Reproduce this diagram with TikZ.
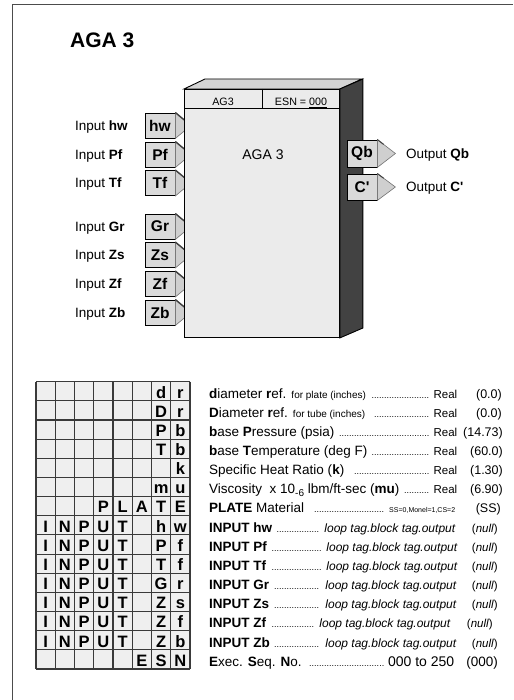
\documentclass[tikz,border=0pt]{standalone}
\usepackage{fontspec}
\setmainfont{Liberation Sans}
\newfontfamily\nq{Liberation Sans}
\usetikzlibrary{calc}
\definecolor{facegray}{HTML}{EBEBEB}
\definecolor{topgray}{HTML}{D4D4D4}
\definecolor{sidegray}{HTML}{424242}
\definecolor{tabgray}{HTML}{DADADA}
\definecolor{bevelgray}{HTML}{CFCFCF}
\definecolor{cellgray}{HTML}{EFEFEF}
\definecolor{linegray}{HTML}{3A3A3A}
\newcommand\fs[1]{\fontsize{#1}{#1}\selectfont}
\newcommand\dotlead{{\fs{9}\leaders\hbox to 2.5pt{\hss.\hss}\hfill}}
\tikzset{
  frameline/.style={draw=black!70, line width=0.8pt},
  face/.style={fill=facegray, draw=black, line width=0.9pt},
  intab/.style={draw=black, fill=tabgray, line width=0.8pt, minimum width=30pt, minimum height=25pt, inner sep=0pt, font=\bfseries\fs{15.5}},
  bevel/.style={fill=bevelgray, draw=black!55, line width=0.6pt},
  bevedge/.style={draw=black!75, line width=1.4pt},
  lab/.style={anchor=base west, inner sep=0pt, font=\fs{13.5}},
  gridl/.style={draw=linegray, line width=1.1pt},
  gletter/.style={anchor=base, inner sep=0pt, font=\bfseries\fs{16.5}},
  rtext/.style={anchor=base west, inner sep=0pt, font=\fs{13.5}},
  rval/.style={anchor=base east, inner sep=0pt, font=\fs{12.5}},
}
\newcommand\gl[3]{\node[gletter] (g#1x#2) at ({36+19.25*(#2-0.5)},{381.7+19.15*#1-2.8}) {#3};}
\newcommand\rt[3]{\node[rtext] (t#1) at (209,{381.7+19.15*#1-2.8}) {\makebox[#2][l]{#3}};}
\newcommand\rv[3]{\node[rval] (v#1) at (#2,{381.7+19.15*#1-2.8}) {#3};}
\begin{document}
\begin{tikzpicture}[x=1pt,y=-1pt]
\useasboundingbox (0,0) rectangle (513,700);
\fill[white] (0,0) rectangle (513,700);
% frame
\draw[frameline] (12,700) -- (12,4) -- (513,4);
% title
\node[anchor=base west, inner sep=0pt, font=\bfseries\fs{21}] (title) at (70,48) {AGA 3};
% input tabs
\node[intab] (thw) at (160,125.5) {hw};
\node[intab] (tPf) at (160,154.5) {Pf};
\node[intab] (tTf) at (160,183) {Tf};
\node[intab] (tGr) at (160,226.5) {Gr};
\node[intab] (tZs) at (160,255) {Zs};
\node[intab] (tZf) at (160,284) {Zf};
\node[intab] (tZb) at (160,312.5) {Zb};
\foreach \t in {hw,Pf,Tf,Gr,Zs,Zf,Zb}{
  \draw[bevel] (t\t.north east) -- ($(t\t.east)+(15.5,0)$) -- (t\t.south east) -- cycle;
  \draw[bevedge] (t\t.north east) -- ($(t\t.north east)!0.6!(t\t.east)+(9.3,0)$);
}
% block
\node[face, minimum width=155pt, minimum height=248pt, inner sep=0pt, anchor=north west] (blk) at (184,89) {};
\draw[fill=topgray, draw=black, line width=0.9pt] (blk.north west) -- ++(21,-10) -- ++(157,0) -- (blk.north east) -- cycle;
\draw[fill=sidegray, draw=black, line width=0.9pt] (blk.north east) -- ++(23,-10) -- ++(0,249) -- (blk.south east) -- cycle;
\draw[line width=0.7pt] ($(blk.north west)+(0,19)$) -- ($(blk.north east)+(0,19)$);
\draw[line width=0.7pt] (262,89) -- (262,108);
\node[anchor=base, inner sep=0pt, font=\fs{10.7}] (hdr1) at (223,106) {AG3};
\node[anchor=base, inner sep=0pt, font=\fs{10.7}] (hdr2) at (301,106) {ESN = \underline{000}};
\node[anchor=base, inner sep=0pt, font=\fs{14}] (bname) at (263,159.3) {AGA 3};
% output tabs
\node[intab, minimum height=27pt] (tQb) at (362,153.5) {Qb};
\node[intab, minimum height=26pt] (tC) at (362,187) {\nq\bfseries C'};
\foreach \t in {Qb,C}{
  \draw[bevel] (t\t.north east) -- ($(t\t.east)+(18,0)$) -- (t\t.south east) -- cycle;
  \draw[bevedge, line width=1pt] (t\t.north east) -- ($(t\t.north east)!0.35!($(t\t.east)+(18,0)$)$);
}
% labels
\node[lab] (lhw) at (75,130.3) {Input \textbf{hw}};
\node[lab] (lPf) at (75,159.3) {Input \textbf{Pf}};
\node[lab] (lTf) at (75,187.8) {Input \textbf{Tf}};
\node[lab] (lGr) at (75,231.3) {Input \textbf{Gr}};
\node[lab] (lZs) at (75,259.8) {Input \textbf{Zs}};
\node[lab] (lZf) at (75,288.8) {Input \textbf{Zf}};
\node[lab] (lZb) at (75,317.3) {Input \textbf{Zb}};
\node[lab] (lQb) at (406,158.3) {Output \textbf{Qb}};
\node[lab] (lC) at (406,191.8) {Output {\nq\bfseries C'}};
% grid
\fill[cellgray] (36,381.7) rectangle (190,668.95);
\foreach \i in {0,...,8} \draw[gridl] ({36+19.25*\i},381.7) -- ({36+19.25*\i},668.95);
\foreach \j in {0,...,15} \draw[gridl] (36,{381.7+19.15*\j}) -- (190,{381.7+19.15*\j});
\gl{1}{7}{d}\gl{1}{8}{r}
\gl{2}{7}{D}\gl{2}{8}{r}
\gl{3}{7}{P}\gl{3}{8}{b}
\gl{4}{7}{T}\gl{4}{8}{b}
\gl{5}{8}{k}
\gl{6}{7}{m}\gl{6}{8}{u}
\gl{7}{4}{P}\gl{7}{5}{L}\gl{7}{6}{A}\gl{7}{7}{T}\gl{7}{8}{E}
\foreach \r/\a/\b in {8/h/w,9/P/f,10/T/f,11/G/r,12/Z/s,13/Z/f,14/Z/b}{
  \gl{\r}{1}{I}\gl{\r}{2}{N}\gl{\r}{3}{P}\gl{\r}{4}{U}\gl{\r}{5}{T}\gl{\r}{7}{\a}\gl{\r}{8}{\b}
}
\gl{15}{6}{E}\gl{15}{7}{S}\gl{15}{8}{N}
% right texts
\rt{1}{248pt}{\textbf{d}iameter \textbf{r}ef. {\fs{10}for plate (inches)} \dotlead\ {\fs{11.5}Real}}
\rt{2}{248pt}{\textbf{D}iameter \textbf{r}ef. {\fs{10}for tube (inches)}\ \ \dotlead\ {\fs{11.5}Real}}
\rt{3}{248pt}{\textbf{b}ase \textbf{P}ressure (psia) \dotlead\ {\fs{11.5}Real}}
\rt{4}{248pt}{\textbf{b}ase \textbf{T}emperature (deg F) \dotlead\ {\fs{11.5}Real}}
\rt{5}{248pt}{Specific Heat Ratio (\textbf{k})\ \ \dotlead\ {\fs{11.5}Real}}
\rt{6}{248pt}{Viscosity\ \ x 10\raisebox{-2.5pt}{\fs{10}-6} lbm/ft-sec (\textbf{mu}) \dotlead\ {\fs{11.5}Real}}
\rt{7}{246pt}{\textbf{PLATE} Material\ \ \dotlead\ {\fs{7}SS=0,Monel=1,CS=2}}
\rt{8}{246pt}{\textbf{INPUT hw} \dotlead\ {\fs{12}\itshape loop tag.block tag.output}}
\rt{9}{248pt}{\textbf{INPUT Pf} \dotlead\ {\fs{12}\itshape loop tag.block tag.output}}
\rt{10}{248pt}{\textbf{INPUT Tf} \dotlead\ {\fs{12}\itshape loop tag.block tag.output}}
\rt{11}{247pt}{\textbf{INPUT Gr} \dotlead\ {\fs{12}\itshape loop tag.block tag.output}}
\rt{12}{247pt}{\textbf{INPUT Zs} \dotlead\ {\fs{12}\itshape loop tag.block tag.output}}
\rt{13}{241pt}{\textbf{INPUT Zf} \dotlead\ {\fs{12}\itshape loop tag.block tag.output}}
\rt{14}{247pt}{\textbf{INPUT Zb} \dotlead\ {\fs{12}\itshape loop tag.block tag.output}}
\rt{15}{245pt}{\textbf{E}xec. \textbf{S}eq. \textbf{N}o. \dotlead\ {\fs{14}000 to 250}}
% values
\rv{1}{502}{(0.0)}
\rv{2}{502}{(0.0)}
\rv{3}{503}{(14.73)}
\rv{4}{503}{(60.0)}
\rv{5}{503}{(1.30)}
\rv{6}{503}{(6.90)}
\rv{7}{501}{(SS)}
\foreach \r in {8,9,10,11,12,14}{\rv{\r}{498}{\fs{11.5}(\textit{null})}}
\rv{13}{493}{\fs{11.5}(\textit{null})}
\rv{15}{498}{\fs{13.5}(000)}
\end{tikzpicture}
\end{document}
